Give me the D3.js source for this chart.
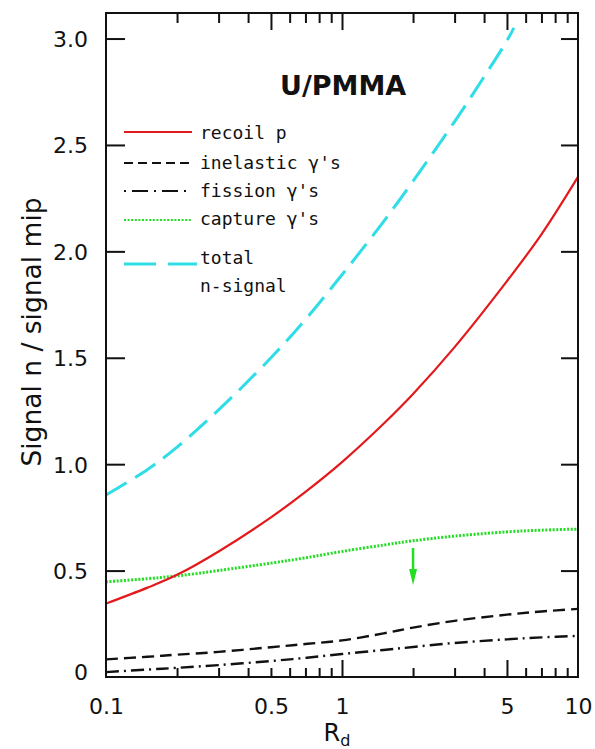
<!DOCTYPE html>
<html>
<head>
<meta charset="utf-8">
<script src="https://cdn.jsdelivr.net/npm/d3@7"></script>
<style>
  html, body { margin: 0; padding: 0; background: #fff; }
  svg { display: block; }
  .tick text { font-family: "DejaVu Sans", sans-serif; fill: #111; }
</style>
</head>
<body>
<div id="chart"></div>
<script>
// R_d sample points and signal ratios of the individual components
const rd        = [0.1, 0.15, 0.2, 0.3, 0.5, 0.7, 1, 1.5, 2, 3, 5, 7, 10];
const recoilP   = [0.345, 0.42, 0.48, 0.59, 0.75, 0.87, 1.01, 1.19, 1.33, 1.55, 1.86, 2.08, 2.35];
const inelastic = [0.083, 0.095, 0.105, 0.118, 0.14, 0.155, 0.172, 0.205, 0.232, 0.264, 0.293, 0.308, 0.32];
const fission   = [0.023, 0.035, 0.043, 0.056, 0.075, 0.09, 0.108, 0.127, 0.141, 0.16, 0.177, 0.186, 0.193];
const capture   = [0.447, 0.462, 0.475, 0.50, 0.535, 0.56, 0.59, 0.62, 0.64, 0.662, 0.682, 0.69, 0.695];
// total n-signal leaves the frame near R_d = 5.4
const totalRd   = [0.1, 0.15, 0.2, 0.3, 0.5, 0.7, 1, 1.5, 2, 3, 4, 5, 5.35];
const totalN    = [0.855, 0.975, 1.08, 1.255, 1.50, 1.68, 1.89, 2.14, 2.33, 2.61, 2.82, 2.99, 3.05];

// capture-gamma upper-limit arrow at R_d = 2
const arrowRd = 2;
const arrowFrom = 0.606;
const arrowTo = 0.432;

// axis ticks
const yTickValues = [0, 0.5, 1.0, 1.5, 2.0, 2.5, 3.0];
const yTickLabels = ["0", "0.5", "1.0", "1.5", "2.0", "2.5", "3.0"];
const xLabelValues = [0.1, 0.5, 1, 5, 10];
const xLabelText = ["0.1", "0.5", "1", "5", "10"];
const xMinor = [0.2, 0.3, 0.4, 0.5, 0.6, 0.7, 0.8, 0.9, 2, 3, 4, 6, 7, 8, 9];
const xMajorBottom = [1, 5];
const xMajorTop = [0.5, 1, 5];

const legendItems = [
  { key: "recoil", label: "recoil p" },
  { key: "inelastic", label: "inelastic γ's" },
  { key: "fission", label: "fission γ's" },
  { key: "capture", label: "capture γ's" },
  { key: "total", label: "total" }
];

const W = 595, H = 749;
const frame = { left: 106, right: 578, top: 13, bottom: 677 };

const styles = {
  recoil:    { color: "#e3191c", width: 2.2, dash: null },
  inelastic: { color: "#111111", width: 2.4, dash: "12,6" },
  fission:   { color: "#111111", width: 2.4, dash: "13,5,2,5" },
  capture:   { color: "#22dd22", width: 3, dash: "2,1.6" },
  total:     { color: "#2fdde6", width: 3, dash: "24,10" }
};

const svg = d3.select("#chart").append("svg")
  .attr("width", W).attr("height", H);

const x = d3.scaleLog().domain([0.1, 10]).range([frame.left, frame.right]);
const y = d3.scaleLinear().domain([0, 3.12]).range([frame.bottom, frame.top]);

svg.append("defs").append("clipPath").attr("id", "plotclip")
  .append("rect").attr("x", frame.left).attr("y", frame.top)
  .attr("width", frame.right - frame.left).attr("height", frame.bottom - frame.top);

// curves
const line = d3.line().x(d => x(d[0])).y(d => y(d[1])).curve(d3.curveCatmullRom.alpha(0.5));
const series = [
  { key: "total", xs: totalRd, ys: totalN },
  { key: "capture", xs: rd, ys: capture },
  { key: "recoil", xs: rd, ys: recoilP },
  { key: "inelastic", xs: rd, ys: inelastic },
  { key: "fission", xs: rd, ys: fission }
];
const plot = svg.append("g").attr("clip-path", "url(#plotclip)");
series.forEach(s => {
  const st = styles[s.key];
  plot.append("path")
    .datum(s.xs.map((v, i) => [v, s.ys[i]]))
    .attr("d", line)
    .attr("fill", "none")
    .attr("stroke", st.color)
    .attr("stroke-width", st.width)
    .attr("stroke-dasharray", st.dash);
});

// arrow
const ax = x(arrowRd), ay0 = y(arrowFrom), ay1 = y(arrowTo);
svg.append("line")
  .attr("x1", ax).attr("x2", ax).attr("y1", ay0).attr("y2", ay1 - 14)
  .attr("stroke", "#22dd22").attr("stroke-width", 2.5);
svg.append("path")
  .attr("d", `M${ax - 4},${ay1 - 16} L${ax + 4},${ay1 - 16} L${ax},${ay1} Z`)
  .attr("fill", "#22dd22");

// frame
svg.append("rect")
  .attr("x", frame.left).attr("y", frame.top)
  .attr("width", frame.right - frame.left).attr("height", frame.bottom - frame.top)
  .attr("fill", "none").attr("stroke", "#111").attr("stroke-width", 2);

function styleAxis(g) {
  g.select(".domain").remove();
  g.selectAll(".tick line").attr("stroke", "#111").attr("stroke-width", 2);
}

// y ticks (inward) on both sides
svg.append("g").attr("transform", `translate(${frame.left},0)`)
  .call(d3.axisLeft(y).tickValues(yTickValues.filter(v => v > 0)).tickSize(-19).tickFormat(""))
  .call(styleAxis);
svg.append("g").attr("transform", `translate(${frame.right},0)`)
  .call(d3.axisRight(y).tickValues(yTickValues.filter(v => v > 0)).tickSize(-17).tickFormat(""))
  .call(styleAxis);

// y labels
const yl = svg.append("g").attr("transform", `translate(${frame.left},0)`)
  .call(d3.axisLeft(y).tickValues(yTickValues).tickSize(0).tickPadding(18)
    .tickFormat((d, i) => yTickLabels[i]))
  .call(styleAxis);
yl.selectAll("text").attr("font-size", 22)
  .attr("dy", (d) => d === 0 ? "0.1em" : "0.36em");

// x ticks: minor and major, bottom and top
svg.append("g").attr("transform", `translate(0,${frame.bottom})`)
  .call(d3.axisBottom(x).tickValues(xMinor).tickSize(-9).tickFormat(""))
  .call(styleAxis);
svg.append("g").attr("transform", `translate(0,${frame.bottom})`)
  .call(d3.axisBottom(x).tickValues(xMajorBottom).tickSize(-17).tickFormat(""))
  .call(styleAxis);
svg.append("g").attr("transform", `translate(0,${frame.top})`)
  .call(d3.axisTop(x).tickValues(xMinor.filter(v => v !== 0.5)).tickSize(-10).tickFormat(""))
  .call(styleAxis);
svg.append("g").attr("transform", `translate(0,${frame.top})`)
  .call(d3.axisTop(x).tickValues(xMajorTop).tickSize(-17).tickFormat(""))
  .call(styleAxis);

// x labels
const xl = svg.append("g").attr("transform", `translate(0,${frame.bottom})`)
  .call(d3.axisBottom(x).tickValues(xLabelValues).tickSize(0).tickPadding(21)
    .tickFormat((d, i) => xLabelText[i]))
  .call(styleAxis);
xl.selectAll("text").attr("font-size", 22);

// axis titles
const xt = svg.append("text")
  .attr("x", 337).attr("y", 741)
  .attr("text-anchor", "middle")
  .attr("font-family", "DejaVu Sans, sans-serif")
  .attr("font-size", 24).attr("fill", "#111");
xt.append("tspan").text("R");
xt.append("tspan").attr("font-size", 16).attr("dy", 5).text("d");

svg.append("text")
  .attr("transform", "translate(41,332) rotate(-90)")
  .attr("text-anchor", "middle")
  .attr("font-family", "DejaVu Sans, sans-serif")
  .attr("font-size", 26.5).attr("fill", "#111")
  .text("Signal n / signal mip");

// panel title
svg.append("text")
  .attr("x", 280).attr("y", 95)
  .attr("font-family", "DejaVu Sans, sans-serif")
  .attr("font-weight", "bold")
  .attr("font-size", 27).attr("fill", "#111")
  .text("U/PMMA");

// legend
const legendLineY = [132, 163, 191, 220, 264];
const legendTextY = [139, 169, 197, 225, 264];
const lg = svg.append("g");
legendItems.forEach((item, i) => {
  const st = styles[item.key];
  lg.append("line")
    .attr("x1", 124).attr("x2", item.key === "total" ? 197 : 192)
    .attr("y1", legendLineY[i]).attr("y2", legendLineY[i])
    .attr("stroke", st.color)
    .attr("stroke-width", item.key === "total" ? 3 : 2.2)
    .attr("stroke-dasharray", item.key === "fission" ? "2,6,16,6"
      : item.key === "inelastic" ? "9,5"
      : item.key === "total" ? "32,12" : st.dash);
  lg.append("text")
    .attr("x", 200).attr("y", legendTextY[i])
    .attr("font-family", "DejaVu Sans Mono, monospace")
    .attr("font-size", 18).attr("fill", "#111")
    .text(item.label);
});
lg.append("text")
  .attr("x", 200).attr("y", 292)
  .attr("font-family", "DejaVu Sans Mono, monospace")
  .attr("font-size", 18).attr("fill", "#111")
  .text("n-signal");
</script>
</body>
</html>
